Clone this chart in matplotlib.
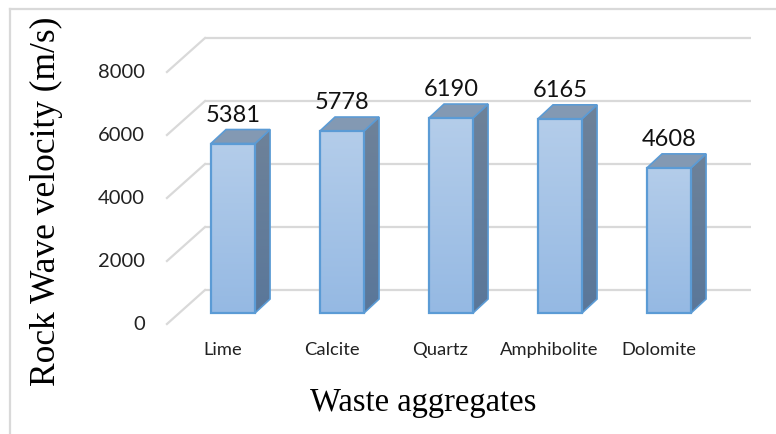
import numpy as np
import matplotlib.pyplot as plt
from matplotlib.patches import Polygon, Rectangle
from matplotlib.lines import Line2D

materials = ['Lime', 'Calcite', 'Quartz', 'Amphibolite', 'Dolomite']
velocity = [5381, 5778, 6190, 6165, 4608]
yticks = [0, 2000, 4000, 6000, 8000]

# pseudo-3D geometry, in data units (x = category slot, y = m/s)
half_w = 0.202
depth_x = 0.138
depth_y = 444
wall_lift = 730
wall_left = -0.257
wall_right = 4.752
side_x = -0.606
side_drop = 1079

fig = plt.figure(figsize=(7.76, 4.34), dpi=100)
ax = fig.add_axes([0, 0, 1, 1])
ax.set_xlim(-2.1376, 4.9817)
ax.set_ylim(-3841, 9937)
ax.axis('off')

# outer frame (top and left edges only)
fig.add_artist(Line2D([0.013, 1], [0.979, 0.979], color='#d9d9d9', lw=1.6, transform=fig.transFigure))
fig.add_artist(Line2D([0.013, 0.013], [0, 0.979], color='#d9d9d9', lw=1.6, transform=fig.transFigure))

# back wall and side wall gridlines
for t in yticks:
    yb = t + wall_lift
    ax.plot([wall_left, wall_right], [yb, yb], color='#d9d9d9', lw=1.6, zorder=1,
            solid_capstyle='butt')
    ax.plot([side_x, wall_left], [yb - side_drop, yb], color='#d9d9d9', lw=1.6, zorder=1)
    ax.text(side_x - 0.2, yb - side_drop, f'{t}', ha='right', va='center',
            fontsize=14.5, family='Lato', color='#222222')

# gradient for the bar fronts
grad = np.linspace(0, 1, 256).reshape(-1, 1)
front_cmap = plt.matplotlib.colors.LinearSegmentedColormap.from_list(
    'front', ['#95b9e3', '#b4cdea'])
side_cmap = plt.matplotlib.colors.LinearSegmentedColormap.from_list(
    'side', ['#5a7799', '#6e8299'])

for i, (name, v) in enumerate(zip(materials, velocity)):
    x0, x1 = i - half_w, i + half_w
    # right side face
    side_pts = [(x1, 0), (x1 + depth_x, depth_y), (x1 + depth_x, v + depth_y), (x1, v)]
    side = Polygon(side_pts, closed=True, facecolor='none', edgecolor='none', zorder=3)
    ax.add_patch(side)
    im = ax.imshow(grad, cmap=side_cmap, aspect='auto', origin='lower',
                   extent=[x1, x1 + depth_x, 0, v + depth_y], zorder=3)
    im.set_clip_path(side)
    ax.add_patch(Polygon(side_pts, closed=True, facecolor='none',
                         edgecolor='#5b9bd5', lw=1.2, zorder=4))
    # top face
    ax.add_patch(Polygon([(x0, v), (x0 + depth_x, v + depth_y), (x1 + depth_x, v + depth_y), (x1, v)],
                         closed=True, facecolor='#8399b3', edgecolor='#5b9bd5', lw=1.2, zorder=4))
    # front face
    front = Rectangle((x0, 0), 2 * half_w, v, facecolor='none', edgecolor='none', zorder=5)
    ax.add_patch(front)
    im = ax.imshow(grad, cmap=front_cmap, aspect='auto', origin='lower',
                   extent=[x0, x1, 0, v], zorder=5)
    im.set_clip_path(front)
    ax.add_patch(Rectangle((x0, 0), 2 * half_w, v, facecolor='none',
                           edgecolor='#5b9bd5', lw=1.6, zorder=6))
    # value label
    ax.text(i, v + depth_y + 120, f'{v}', ha='center', va='bottom',
            fontsize=17, family='Lato', color='#111111', zorder=7)
    # category label
    ax.text(i - 0.096, -1175, name, ha='center', va='center',
            fontsize=13.2, family='Lato', color='#222222')

ax.text(1.743, -2857, 'Waste aggregates', ha='center', va='center',
        fontsize=23.5, family='Liberation Serif', color='black')
ax.text(-1.71, 3556, 'Rock Wave velocity (m/s)', ha='center', va='center', rotation=90,
        fontsize=25.5, family='Liberation Serif', color='black')

fig.savefig('out.png', dpi=100)
